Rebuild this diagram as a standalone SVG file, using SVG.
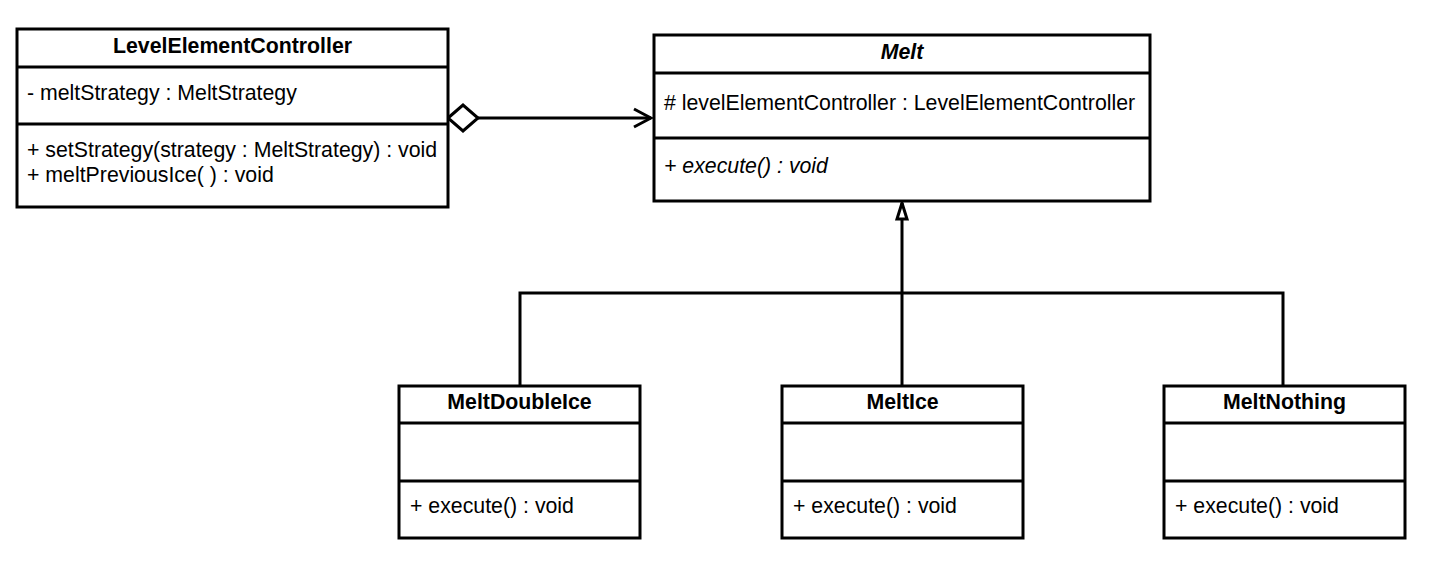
<svg xmlns="http://www.w3.org/2000/svg" width="1451" height="578" viewBox="0 0 1451 578">
<style>
.box{fill:#fff;stroke:#000;stroke-width:3}
.div{stroke:#000;stroke-width:3}
text{font-family:"Liberation Sans",Arial,sans-serif;font-size:21.3px;fill:#000}
.t{font-weight:bold;text-anchor:middle}
.it{font-style:italic}
.edge{fill:none;stroke:#000;stroke-width:3}
</style>
<defs>
<marker id="diamond" markerUnits="userSpaceOnUse" markerWidth="34" markerHeight="30" viewBox="-2 -2 34 30" refX="30" refY="13" orient="auto">
<path d="M0,13 L15,0 L30,13 L15,26 Z" fill="#fff" stroke="#000" stroke-width="3"/>
</marker>
<marker id="open" markerUnits="userSpaceOnUse" markerWidth="22" markerHeight="24" viewBox="-2 -3 22 24" refX="17" refY="9" orient="auto">
<path d="M0,0 L17,9 L0,18" fill="none" stroke="#000" stroke-width="3"/>
</marker>
<marker id="tri" markerUnits="userSpaceOnUse" markerWidth="22" markerHeight="16" viewBox="-2 -3 22 16" refX="16" refY="5" orient="auto">
<path d="M0,0 L16,5 L0,10 Z" fill="#fff" stroke="#000" stroke-width="3"/>
</marker>
</defs>
<rect width="1451" height="578" fill="#fff"/>
<g id="connectors">
<path class="edge" d="M478,118 H651" marker-start="url(#diamond)" marker-end="url(#open)"/>
<path class="edge" d="M902,386 V203" marker-end="url(#tri)"/>
<path class="edge" d="M520,386 V293 H1283 V386"/>
</g>
<g id="LevelElementController">
<rect class="box" x="17" y="29" width="431" height="178"/>
<line class="div" x1="17" y1="67" x2="448" y2="67"/>
<line class="div" x1="17" y1="124" x2="448" y2="124"/>
<text class="t" x="232.5" y="53">LevelElementController</text>
<text x="27" y="100">- meltStrategy : MeltStrategy</text>
<text x="27" y="157">+ setStrategy(strategy : MeltStrategy) : void</text>
<text x="27" y="182">+ meltPreviousIce( ) : void</text>
</g>
<g id="Melt">
<rect class="box" x="654" y="35" width="496" height="166"/>
<line class="div" x1="654" y1="73" x2="1150" y2="73"/>
<line class="div" x1="654" y1="138" x2="1150" y2="138"/>
<text class="t it" x="902" y="59">Melt</text>
<text x="664" y="110"># levelElementController : LevelElementController</text>
<text class="it" x="664" y="173">+ execute() : void</text>
</g>
<g id="MeltDoubleIce">
<rect class="box" x="399" y="386" width="241" height="152"/>
<line class="div" x1="399" y1="423" x2="640" y2="423"/>
<line class="div" x1="399" y1="481" x2="640" y2="481"/>
<text class="t" x="519.5" y="409">MeltDoubleIce</text>
<text x="410" y="513">+ execute() : void</text>
</g>
<g id="MeltIce">
<rect class="box" x="782" y="386" width="241" height="152"/>
<line class="div" x1="782" y1="423" x2="1023" y2="423"/>
<line class="div" x1="782" y1="481" x2="1023" y2="481"/>
<text class="t" x="902.5" y="409">MeltIce</text>
<text x="793" y="513">+ execute() : void</text>
</g>
<g id="MeltNothing">
<rect class="box" x="1164" y="386" width="241" height="152"/>
<line class="div" x1="1164" y1="423" x2="1405" y2="423"/>
<line class="div" x1="1164" y1="481" x2="1405" y2="481"/>
<text class="t" x="1284.5" y="409">MeltNothing</text>
<text x="1175" y="513">+ execute() : void</text>
</g>
</svg>
